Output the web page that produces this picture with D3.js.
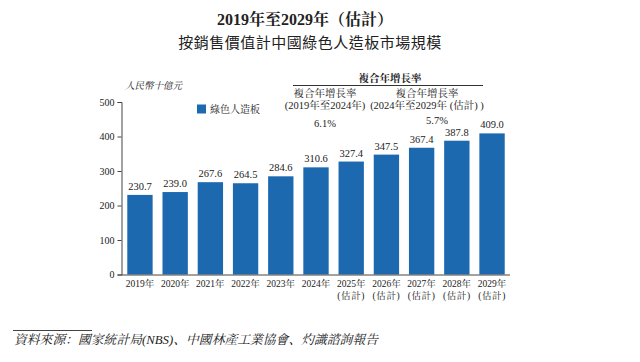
<!DOCTYPE html>
<html><head><meta charset="utf-8">
<script src="https://cdn.jsdelivr.net/npm/d3@7"></script>
<style>
body{margin:0;background:#fff;}
svg{display:block;}
text{fill:#222;}
</style></head>
<body>
<svg id="chart" width="640" height="362"></svg>
<script>
const years = ["2019年","2020年","2021年","2022年","2023年","2024年","2025年","2026年","2027年","2028年","2029年"];
const estimated = [false,false,false,false,false,false,true,true,true,true,true];
const values = [230.7,239.0,267.6,264.5,284.6,310.6,327.4,347.5,367.4,387.8,409.0];
const yTicks = [0,100,200,300,400,500];
const seriesName = "綠色人造板";
const titleLines = ["2019年至2029年（估計）","按銷售價值計中國綠色人造板市場規模"];
const unitLabel = "人民幣十億元";
const cagrHeader = "複合年增長率";
const cagrPeriods = [["複合年增長率","(2019年至2024年)"],["複合年增長率","(2024年至2029年 (估計) )"]];
const cagrValues = ["6.1%","5.7%"];
const estLabel = "(估計)";
const sourceText = "資料來源：國家統計局(NBS)、中國林產工業協會、灼識諮詢報告";

const svg = d3.select("#chart");
const serif = "'Liberation Serif','Noto Serif CJK SC','Noto Sans CJK TC',serif";
const cjk = "'Noto Sans CJK TC','Noto Sans CJK SC',sans-serif";
const barColor = "#1d69b0";

const x = d3.scaleBand().domain(years).range([122,510]).paddingInner(0.28).paddingOuter(0.15);
const y = d3.scaleLinear().domain([0,500]).range([274.5,102]);

// title
svg.append("text").attr("x",305).attr("y",25).attr("text-anchor","middle")
  .style("font-family",serif).style("font-weight","bold").style("font-size","16px")
  .text(titleLines[0]);
svg.append("text").attr("x",310).attr("y",48).attr("text-anchor","middle")
  .style("font-family",cjk).style("font-size","15px").style("letter-spacing","0.5px")
  .text(titleLines[1]);

// unit
svg.append("text").attr("x",125).attr("y",89)
  .style("font-family",serif).style("font-style","italic").style("font-size","9.5px")
  .text(unitLabel);

// y axis
const yAxis = svg.append("g").attr("transform","translate(121.5,0)")
  .call(d3.axisLeft(y).tickValues(yTicks).tickSize(4).tickPadding(3));
yAxis.select(".domain").attr("stroke","#444");
yAxis.selectAll(".tick line").attr("stroke","#444");
yAxis.selectAll("text").style("font-family",serif).style("font-size","10px").attr("fill","#222");

// bars
svg.append("g").selectAll("rect").data(values).join("rect")
  .attr("x",(d,i)=>x(years[i])).attr("y",d=>y(d))
  .attr("width",x.bandwidth()).attr("height",d=>y(0)-y(d))
  .attr("fill",barColor);

// value labels
svg.append("g").selectAll("text").data(values).join("text")
  .attr("x",(d,i)=>x(years[i])+x.bandwidth()/2).attr("y",d=>y(d)-5)
  .attr("text-anchor","middle")
  .style("font-family",serif).style("font-size","10.5px")
  .text(d=>d.toFixed(1));

// x axis
const xAxis = svg.append("g").attr("transform",`translate(0,${y(0)})`)
  .call(d3.axisBottom(x).tickSize(0).tickPadding(0).tickFormat(()=>""));
xAxis.select(".domain").attr("stroke","#444").attr("d","M121.5,0.5H510");
const xl = svg.append("g");
years.forEach((yr,i)=>{
  const cx = x(yr)+x.bandwidth()/2;
  xl.append("text").attr("x",cx).attr("y",287).attr("text-anchor","middle")
    .style("font-family",serif).style("font-size","9.5px").text(yr);
  if(estimated[i]){
    xl.append("text").attr("x",cx).attr("y",299).attr("text-anchor","middle")
      .style("font-family",serif).style("font-size","9.5px").style("letter-spacing","0.6px").text(estLabel);
  }
});

// legend
svg.append("rect").attr("x",197).attr("y",104.5).attr("width",9).attr("height",9).attr("fill",barColor);
svg.append("text").attr("x",210).attr("y",112.5)
  .style("font-family",serif).style("font-size","10px").text(seriesName);

// CAGR block
svg.append("text").attr("x",390).attr("y",82).attr("text-anchor","middle")
  .style("font-family",serif).style("font-weight","bold").style("font-size","10.5px").text(cagrHeader);
svg.append("line").attr("x1",293).attr("x2",483).attr("y1",85.5).attr("y2",85.5).attr("stroke","#333").attr("stroke-width",1);
const cagrX = [325,427];
cagrPeriods.forEach((p,i)=>{
  svg.append("text").attr("x",cagrX[i]).attr("y",97).attr("text-anchor","middle")
    .style("font-family",serif).style("font-size","10.5px").text(p[0]);
  svg.append("text").attr("x",cagrX[i]).attr("y",109).attr("text-anchor","middle")
    .style("font-family",serif).style("font-size","10.5px").text(p[1]);
});
svg.append("text").attr("x",325).attr("y",127).attr("text-anchor","middle")
  .style("font-family",serif).style("font-size","10.5px").text(cagrValues[0]);
svg.append("text").attr("x",437).attr("y",124).attr("text-anchor","middle")
  .style("font-family",serif).style("font-size","10.5px").text(cagrValues[1]);

// source
svg.append("line").attr("x1",13).attr("x2",92).attr("y1",330.5).attr("y2",330.5).attr("stroke","#444");
svg.append("text").attr("x",14).attr("y",344)
  .style("font-family",serif).style("font-style","italic").style("font-size","12.8px").attr("fill","#333")
  .text(sourceText);
</script>
</body></html>
